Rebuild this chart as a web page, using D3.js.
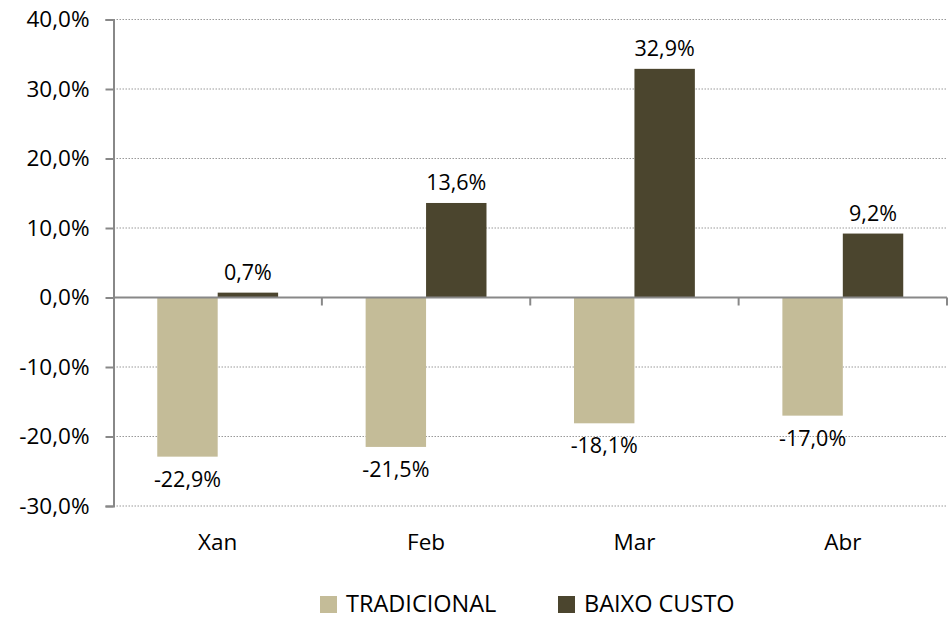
<!DOCTYPE html>
<html><head><meta charset="utf-8">
<script src="https://cdn.jsdelivr.net/npm/d3@7"></script>
<style>
body{margin:0;background:#fff;}
svg{display:block;font-family:"Open Sans","Noto Sans",sans-serif;}
</style></head>
<body><svg id="c" width="951" height="620"></svg>
<script>
const categories = ["Xan","Feb","Mar","Abr"];
const seriesNames = ["TRADICIONAL","BAIXO CUSTO"];
const tradicional = [-22.9,-21.5,-18.1,-17.0];
const baixoCusto = [0.7,13.6,32.9,9.2];
const yTicks = [-30,-20,-10,0,10,20,30,40];
const colors = ["#C4BC98","#4B452E"];

const svg = d3.select("#c");
const pLeft = 113.5, pRight = 947, pTop = 19.5, pBottom = 506;
const x = d3.scaleBand().domain(categories).range([pLeft,pRight]).paddingInner(0.42).paddingOuter(0.21);
const xs = d3.scaleBand().domain(seriesNames).range([0,x.bandwidth()]);
const y = d3.scaleLinear().domain([-30,40]).range([pBottom,pTop]);
const fmt = v => d3.format(".1f")(v).replace(".",",").replace("\u2212","-")+"%";

// gridlines
svg.append("g").selectAll("line").data(yTicks.filter(t=>t!==0)).join("line")
  .attr("x1",pLeft).attr("x2",pRight).attr("y1",d=>y(d)).attr("y2",d=>y(d))
  .attr("stroke","#999").attr("stroke-width",1).attr("stroke-dasharray","1.5,1.5");

// y axis
const ya = svg.append("g").attr("transform",`translate(${pLeft},0)`)
  .call(d3.axisLeft(y).tickValues(yTicks).tickFormat(fmt).tickSize(8).tickPadding(16));
ya.select(".domain").attr("stroke","#888").attr("stroke-width",2);
ya.selectAll(".tick line").attr("stroke","#888").attr("stroke-width",2);
ya.selectAll(".tick text").attr("font-size",22.5).attr("fill","#000")
  .attr("font-family","'Open Sans',sans-serif");

// bars
const data = categories.map((c,i)=>({c, vals:[tradicional[i],baixoCusto[i]]}));
const g = svg.append("g");
data.forEach(d=>{
  d.vals.forEach((v,j)=>{
    const bx = x(d.c)+xs(seriesNames[j]);
    g.append("rect").attr("x",bx).attr("width",xs.bandwidth())
      .attr("y",y(Math.max(0,v))).attr("height",Math.abs(y(v)-y(0)))
      .attr("fill",colors[j]);
    g.append("text").attr("x",bx+xs.bandwidth()/2)
      .attr("y", v>=0 ? y(v)-13 : y(v)+30)
      .attr("text-anchor","middle").attr("font-size",21.5).attr("fill","#000")
      .text(fmt(v));
  });
});

// x axis at zero
svg.append("line").attr("x1",pLeft).attr("x2",pRight).attr("y1",y(0)).attr("y2",y(0))
  .attr("stroke","#888").attr("stroke-width",2);
const bounds = [pLeft, ...categories.slice(1).map(c=>x(c)-x.step()*x.paddingInner()/2), pRight];
svg.append("g").selectAll("line").data(bounds.slice(1)).join("line")
  .attr("x1",d=>d).attr("x2",d=>d).attr("y1",y(0)).attr("y2",y(0)+8)
  .attr("stroke","#888").attr("stroke-width",2);

// category labels
svg.append("g").selectAll("text").data(categories).join("text")
  .attr("x",d=>x(d)+x.bandwidth()/2).attr("y",550).attr("text-anchor","middle")
  .attr("font-size",22.5).attr("fill","#000").text(d=>d);

// legend
const legX = [320,558];
seriesNames.forEach((s,i)=>{
  svg.append("rect").attr("x",legX[i]).attr("y",596).attr("width",17).attr("height",17).attr("fill",colors[i]);
  svg.append("text").attr("x",legX[i]+26).attr("y",612).attr("font-size",23.5).attr("fill","#000").text(s);
});
</script></body></html>
